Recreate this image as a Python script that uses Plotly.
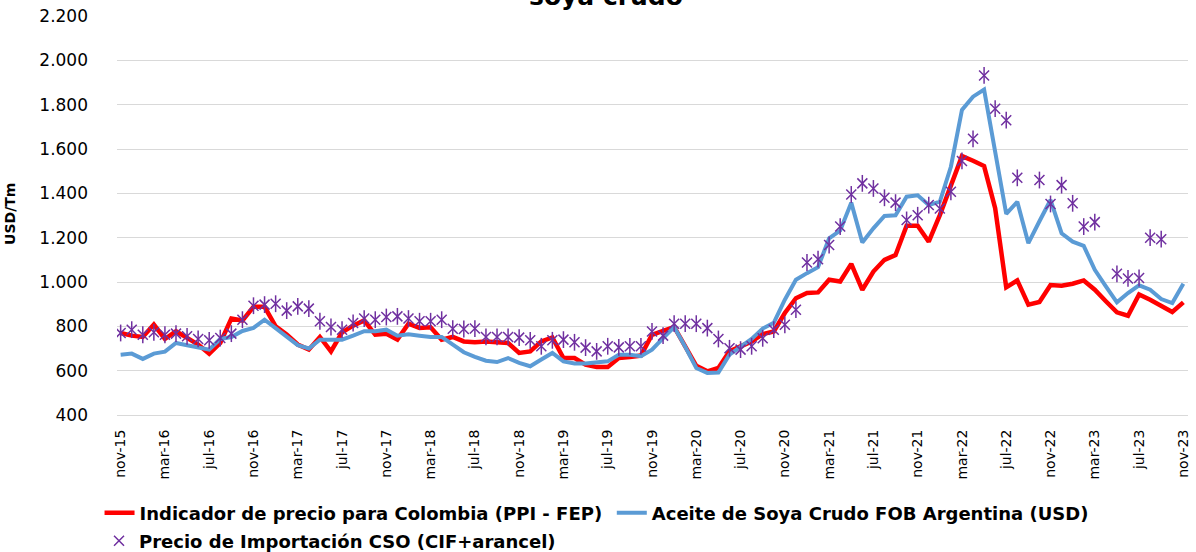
import plotly.graph_objects as go

# ---------------- data ----------------
month_abbr = ["ene", "feb", "mar", "abr", "may", "jun", "jul", "ago", "sep", "oct", "nov", "dic"]
months = []
for k in range(97):  # nov-15 .. nov-23
    m = (10 + k) % 12
    yy = 15 + (10 + k) // 12
    months.append(f"{month_abbr[m]}-{yy}")

tick_labels = months[::4]

ppi_fep = [
    770, 758, 752, 808, 743, 778, 748, 718, 676, 725,
    835, 826, 888, 888, 800, 763, 718, 695, 752, 687,
    773, 803, 827, 762, 767, 740, 812, 793, 796, 740,
    752, 732, 728, 732, 728, 725, 680, 687, 732, 750,
    657, 657, 627, 616, 616, 657, 662, 668, 762, 777,
    797, 710, 622, 597, 612, 687, 707, 732, 765, 777,
    860, 927, 950, 953, 1010, 1002, 1082, 965, 1047, 1100,
    1122, 1254, 1254, 1182, 1302, 1430, 1568, 1547, 1523, 1333,
    976, 1007, 898, 910, 986, 983, 992, 1007, 965, 913,
    863, 848, 944, 920, 895, 865, 908,
]

fob_argentina = [
    672, 677, 653, 677, 686, 725, 715, 706, 695, 743,
    752, 779, 793, 830, 793, 755, 715, 700, 740, 740,
    740, 758, 778, 778, 785, 758, 764, 758, 752, 752,
    717, 683, 662, 645, 639, 657, 635, 620, 650, 680,
    642, 632, 632, 635, 642, 672, 672, 665, 695, 747,
    797, 708, 612, 590, 592, 672, 710, 743, 790, 816,
    920, 1010, 1040, 1067, 1197, 1232, 1358, 1178, 1242, 1298,
    1301, 1385, 1391, 1347, 1362, 1520, 1776, 1836, 1868, 1588,
    1307, 1362, 1175, 1274, 1370, 1220, 1182, 1163, 1055, 980,
    908, 950, 985, 965, 923, 905, 992,
]

cif_arancel = [
    770, 785, 762, 773, 762, 767, 755, 743, 737, 747,
    767, 830, 893, 898, 902, 871, 890, 880, 823, 797,
    785, 815, 835, 830, 842, 845, 835, 823, 823, 830,
    789, 788, 790, 752, 752, 752, 749, 737, 710, 737,
    740, 728, 704, 687, 710, 705, 710, 710, 777, 758,
    812, 812, 812, 792, 743, 701, 695, 710, 746, 785,
    807, 875, 1088, 1103, 1167, 1250, 1395, 1445, 1422, 1380,
    1358, 1280, 1301, 1347, 1332, 1407, 1546, 1646, 1932, 1782,
    1730, 1470, None, 1460, 1352, 1437, 1355, 1250, 1270, None,
    1037, 1016, 1018, 1200, 1193, None, None,
]

name_red = "Indicador de precio para Colombia (PPI - FEP)"
name_blue = "Aceite de Soya Crudo FOB Argentina (USD)"
name_cso = "Precio de Importación CSO (CIF+arancel)"

PURPLE = "#7030a0"

# ---------------- figure ----------------
fig = go.Figure()
fig.add_trace(go.Scatter(
    x=months, y=ppi_fep, mode="lines", name=name_red,
    line=dict(color="#ff0000", width=4.5), legend="legend",
))
fig.add_trace(go.Scatter(
    x=months, y=fob_argentina, mode="lines", name=name_blue,
    line=dict(color="#5b9bd5", width=4), legend="legend2",
))
# Excel-style star marker: an "x" plus a vertical stroke
fig.add_trace(go.Scatter(
    x=months, y=cif_arancel, mode="markers", name=name_cso,
    marker=dict(symbol="x-thin-open", size=10, color=PURPLE,
                line=dict(color=PURPLE, width=1.5)),
    legend="legend3", legendgroup="cso",
))
fig.add_trace(go.Scatter(
    x=months, y=cif_arancel, mode="markers", name=name_cso,
    marker=dict(symbol="line-ns-open", size=12, color=PURPLE,
                line=dict(color=PURPLE, width=1.5)),
    legend="legend3", legendgroup="cso", showlegend=False, hoverinfo="skip",
))

legend_font = dict(family="DejaVu Sans", size=18, color="#000000", weight="bold")

# plot area: x 117..1188 px, y 16..415 px
fig.update_layout(
    width=1196, height=552, autosize=False,
    margin=dict(l=117, r=8, t=16, b=137, pad=0, autoexpand=False),
    paper_bgcolor="white", plot_bgcolor="white",
    separators=",.",
    showlegend=True,
    xaxis=dict(
        type="category", range=[-0.33, 96.42], automargin=False,
        tickmode="array", tickvals=tick_labels, ticktext=tick_labels,
        tickangle=-90, showgrid=False, zeroline=False,
        showline=True, linecolor="#d9d9d9", linewidth=1,
        ticks="", ticklabelstandoff=8,
        tickfont=dict(family="DejaVu Sans", size=14, color="#000000"),
    ),
    yaxis=dict(
        range=[400, 2200], dtick=200, tickformat=",d", automargin=False,
        showgrid=True, gridcolor="#d9d9d9", gridwidth=1,
        zeroline=False, showline=False, ticks="",
        ticklabelstandoff=28,
        tickfont=dict(family="DejaVu Sans", size=17, color="#000000"),
    ),
    legend=dict(
        orientation="h", x=-0.0163, xanchor="left", y=-0.2456, yanchor="middle",
        font=legend_font, bgcolor="rgba(0,0,0,0)", borderwidth=0,
    ),
    legend2=dict(
        orientation="h", x=0.462, xanchor="left", y=-0.2456, yanchor="middle",
        font=legend_font, bgcolor="rgba(0,0,0,0)", borderwidth=0,
    ),
    legend3=dict(
        orientation="h", x=-0.0168, xanchor="left", y=-0.3158, yanchor="middle",
        font=legend_font, bgcolor="rgba(0,0,0,0)", borderwidth=0,
    ),
    annotations=[
        dict(
            text="soya crudo", xref="paper", yref="paper",
            x=0.4566, y=1.0075, xanchor="center", yanchor="bottom",
            showarrow=False,
            font=dict(family="DejaVu Sans", size=25, color="#000000", weight="bold"),
        ),
        dict(
            text="USD/Tm", xref="paper", yref="paper",
            x=-0.1, y=0.5038, xanchor="center", yanchor="middle",
            textangle=-90, showarrow=False,
            font=dict(family="DejaVu Sans", size=14, color="#000000", weight="bold"),
        ),
    ],
)

# remove the page's default 8px body margin so the figure sits at the window origin
fig.write_html(
    "out.html",
    config={"displayModeBar": False},
    post_script="document.body.style.margin='0px';document.body.style.overflow='hidden';",
)
